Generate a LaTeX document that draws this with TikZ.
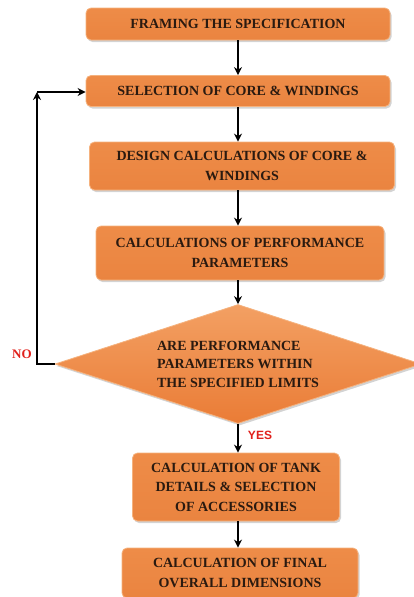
\documentclass[tikz,border=0pt]{standalone}
\usepackage{fontspec}
\setmainfont{Liberation Serif}
\newfontfamily\labelfont{Liberation Sans}
\usetikzlibrary{shapes.geometric,arrows.meta,shadows}
\definecolor{boxtop}{HTML}{EE8C48}
\definecolor{boxmid}{HTML}{F6A96C}
\definecolor{boxbot}{HTML}{EA8440}
\definecolor{boxedge}{HTML}{F5B27E}
\definecolor{dectop}{HTML}{F3A063}
\definecolor{decbot}{HTML}{EA7C36}
\definecolor{txt}{HTML}{2A1A10}
\definecolor{lblred}{HTML}{E0201B}
\begin{document}
\begin{tikzpicture}[x=1pt,y=-1pt,
  box/.style={draw=boxedge,line width=0.8pt,rounded corners=5pt,top color=boxtop,middle color=boxmid,bottom color=boxbot,
    drop shadow={shadow xshift=1.5pt,shadow yshift=-2pt,opacity=0.35},
    font=\bfseries\fontsize{14}{19.5}\selectfont,text=txt,align=center,inner sep=2pt},
  dec/.style={diamond,aspect=3,draw=boxedge,line width=0.8pt,top color=dectop,bottom color=decbot,
    drop shadow={shadow xshift=1.5pt,shadow yshift=-2pt,opacity=0.35},
    font=\bfseries\fontsize{14}{18.5}\selectfont,text=txt,align=left,inner sep=0pt},
  arr/.style={-{Stealth[length=8pt,width=8pt]},line width=1.8pt,black},
  lbl/.style={text=lblred,inner sep=0pt}]
\useasboundingbox (0,0) rectangle (414,597);
\node[box,minimum width=304pt,minimum height=32pt] (n1) at (238,24) {FRAMING THE SPECIFICATION};
\node[box,minimum width=304pt,minimum height=31pt] (n2) at (238,91) {SELECTION OF CORE \& WINDINGS};
\node[box,minimum width=305pt,minimum height=48pt] (n3) at (242,166) {DESIGN CALCULATIONS OF CORE \&\\WINDINGS};
\node[box,minimum width=288pt,minimum height=54pt] (n4) at (240,253) {CALCULATIONS OF PERFORMANCE\\PARAMETERS};
\node[dec,minimum width=366pt,minimum height=119pt] (d) at (238,364) {ARE PERFORMANCE\\PARAMETERS WITHIN\\THE SPECIFIED LIMITS};
\node[box,minimum width=207pt,minimum height=68pt] (n5) at (236,487) {CALCULATION OF TANK\\DETAILS \& SELECTION\\OF ACCESSORIES};
\node[box,minimum width=236pt,minimum height=50pt] (n6) at (240,573) {CALCULATION OF FINAL\\OVERALL DIMENSIONS};
\coordinate (c1) at (37,364);
\coordinate (c2) at (37,92);
\draw[arr] (n1.south) -- (n2.north);
\draw[arr] (n2.south) -- (n2.south|-n3.north);
\draw[arr] (n2.south|-n3.south) -- (n2.south|-n4.north);
\draw[arr] (d.north|-n4.south) -- (d.north);
\draw[arr] (d.south) -- (d.south|-n5.north);
\draw[arr] (d.south|-n5.south) -- (d.south|-n6.north);
\draw[arr] (d.west) -- (c1) -- (c2);
\draw[arr] (c2) -- (n2.west|-c2);
\node[lbl,font=\bfseries\fontsize{13}{14}\selectfont] (no) at (22,354) {NO};
\node[lbl,font=\labelfont\bfseries\fontsize{12}{13}\selectfont] (yes) at (260,435) {YES};
\end{tikzpicture}
\end{document}
